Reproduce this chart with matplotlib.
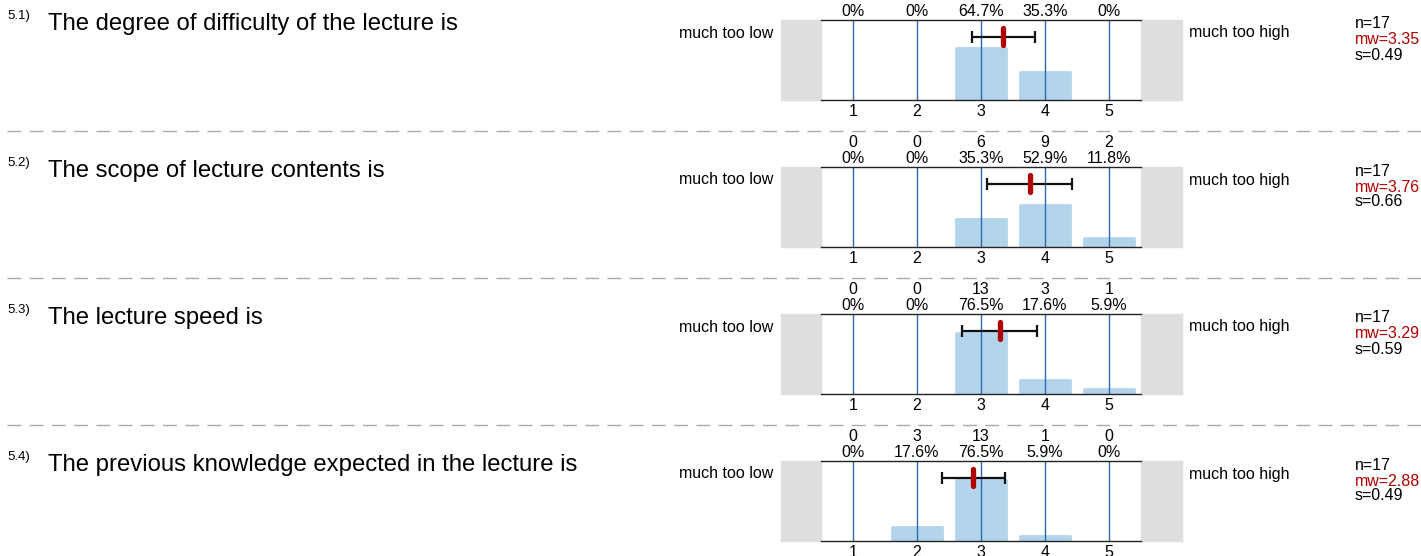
import matplotlib

matplotlib.use("Agg")
import matplotlib.pyplot as plt
from matplotlib.patches import Rectangle
from matplotlib.lines import Line2D

plt.rcParams["font.family"] = ["Liberation Sans", "DejaVu Sans"]

# --- data -------------------------------------------------------------
item_numbers = ["5.1)", "5.2)", "5.3)", "5.4)"]
questions = [
    "The degree of difficulty of the lecture is",
    "The scope of lecture contents is",
    "The lecture speed is",
    "The previous knowledge expected in the lecture is",
]
scale_points = [1, 2, 3, 4, 5]
counts = [
    [0, 0, 11, 6, 0],
    [0, 0, 6, 9, 2],
    [0, 0, 13, 3, 1],
    [0, 3, 13, 1, 0],
]
n_values = [17, 17, 17, 17]
means = [3.35, 3.76, 3.29, 2.88]
std_devs = [0.49, 0.66, 0.59, 0.49]
left_pole = "much too low"
right_pole = "much too high"

# --- layout (pixels) --------------------------------------------------
W, H = 1421, 556
PANEL_LEFT, PANEL_RIGHT = 821, 1141
PANEL_TOP0, PANEL_STEP, PANEL_H = 20, 147, 80
BODY = 11.5
BAR_COLOR = "#b4d4eb"
GRID_COLOR = "#2a6ab4"
MEAN_COLOR = "#b00000"


def fx(x):
    return x / W


def fy(y):
    return 1 - y / H


def fmt_pct(c, n):
    p = 100 * c / n
    return "0%" if c == 0 else f"{p:.1f}%"


def draw_panel(fig, i):
    top = PANEL_TOP0 + i * PANEL_STEP
    ax = fig.add_axes(
        [fx(PANEL_LEFT), fy(top + PANEL_H), (PANEL_RIGHT - PANEL_LEFT) / W, PANEL_H / H]
    )
    ax.set_xlim(0.5, 5.5)
    ax.set_ylim(0, 1)
    n = n_values[i]
    props = [c / n for c in counts[i]]

    ax.bar(
        scale_points,
        props,
        width=0.77,
        color=BAR_COLOR,
        edgecolor=BAR_COLOR,
        linewidth=[2 if p > 0 else 0 for p in props],
        joinstyle="round",
        zorder=1,
    )
    ax.vlines(scale_points, 0, 1, color=GRID_COLOR, linewidth=1.0, zorder=2)

    y_err = 0.79
    ax.errorbar(
        means[i],
        y_err,
        xerr=std_devs[i],
        fmt="none",
        ecolor="#111111",
        elinewidth=1.6,
        capsize=4,
        capthick=1.6,
        zorder=3,
    )
    ax.plot(
        [means[i], means[i]],
        [y_err - 0.105, y_err + 0.105],
        color=MEAN_COLOR,
        linewidth=3.8,
        solid_capstyle="round",
        zorder=4,
    )

    for x, c in zip(scale_points, counts[i]):
        ax.text(x, 1.31, str(c), ha="center", va="center", fontsize=BODY)
        ax.text(x, 1.11, fmt_pct(c, n), ha="center", va="center", fontsize=BODY)

    ax.set_xticks(scale_points)
    ax.set_xticklabels([str(s) for s in scale_points], fontsize=BODY)
    ax.tick_params(axis="x", length=0, pad=3.0)
    ax.set_yticks([])
    for side in ["left", "right"]:
        ax.spines[side].set_visible(False)
    for side in ["top", "bottom"]:
        ax.spines[side].set_color("#222222")
        ax.spines[side].set_linewidth(1.0)

    ax.add_patch(
        Rectangle((-0.125, 0), 0.125, 1, transform=ax.transAxes,
                  color="#dedede", clip_on=False, zorder=0)
    )
    ax.add_patch(
        Rectangle((1.0, 0), 0.128, 1, transform=ax.transAxes,
                  color="#dedede", clip_on=False, zorder=0)
    )

    # texts around the panel
    fig.text(fx(7), fy(top - 4), item_numbers[i], fontsize=9.5, ha="left", va="center")
    fig.text(fx(48), fy(top + 4), questions[i], fontsize=17.2, ha="left", va="center")
    fig.text(fx(773), fy(top + 13), left_pole, fontsize=BODY, ha="right", va="center")
    fig.text(fx(1189), fy(top + 13), right_pole, fontsize=BODY, ha="left", va="center")
    fig.text(fx(1355), fy(top + 4), f"n={n}", fontsize=BODY, ha="left", va="center")
    fig.text(fx(1355), fy(top + 20), f"mw={means[i]:.2f}", fontsize=BODY,
             ha="left", va="center", color=MEAN_COLOR)
    fig.text(fx(1355), fy(top + 35), f"s={std_devs[i]:.2f}", fontsize=BODY,
             ha="left", va="center")

    if i < len(questions) - 1:
        y_sep = top + PANEL_STEP - 36
        fig.add_artist(
            Line2D([fx(7), 1.0], [fy(y_sep), fy(y_sep)], transform=fig.transFigure,
                   color="#aaaaaa", linewidth=1.0, dashes=(10, 6))
        )


def main():
    fig = plt.figure(figsize=(W / 100, H / 100), dpi=100, facecolor="white")
    for i in range(len(questions)):
        draw_panel(fig, i)
    fig.savefig("out.png", dpi=100, facecolor="white")
    plt.close(fig)


if __name__ == "__main__":
    main()
